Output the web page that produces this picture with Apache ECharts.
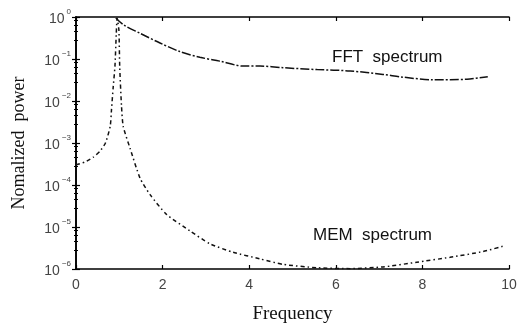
<!DOCTYPE html>
<html>
<head>
<meta charset="utf-8">
<script src="https://cdn.jsdelivr.net/npm/echarts@6/dist/echarts.min.js"></script>
<style>
  html, body { margin: 0; padding: 0; background: #fff; }
  #chart { width: 520px; height: 329px; }
</style>
</head>
<body>
<div id="chart"></div>
<script>
// FFT spectrum
const fftFreq = [0.92, 1.1, 1.48, 1.94, 2.4, 2.86, 3.32, 3.86, 4.25, 4.78, 5.57, 6.33, 7.09, 7.55, 8.24, 9.03, 9.51];
const fftPower = [0.95, 0.65, 0.41, 0.24, 0.15, 0.11, 0.089, 0.068, 0.068, 0.062, 0.056, 0.052, 0.043, 0.037, 0.032, 0.033, 0.038];

// MEM spectrum
const memFreq = [0, 0.2, 0.4, 0.55, 0.68, 0.79, 0.82, 0.86, 0.9, 0.93, 0.95, 0.99, 1.01, 1.05, 1.09, 1.25, 1.48, 1.71, 2.09, 2.63, 3.09, 3.63, 4.25, 4.78, 5.57, 6.33, 7.09, 7.87, 8.64, 9.4, 9.91];
const memPower = [3.0e-4, 3.5e-4, 4.6e-4, 6.3e-4, 1.0e-3, 2.5e-3, 6.3e-3, 2.2e-2, 6.8e-2, 0.4, 0.93, 0.5, 6.3e-2, 7.9e-3, 2.5e-3, 7.4e-4, 1.45e-4, 5.9e-5, 2.0e-5, 8.1e-6, 4.0e-6, 2.5e-6, 1.74e-6, 1.29e-6, 1.07e-6, 1.02e-6, 1.12e-6, 1.45e-6, 1.9e-6, 2.6e-6, 3.6e-6];

const xTicks = [0, 2, 4, 6, 8, 10];
const yExponents = [0, -1, -2, -3, -4, -5, -6];

const chart = echarts.init(document.getElementById('chart'));

const tickLabelColor = '#444';
const sansFont = 'Liberation Sans, Arial, sans-serif';
const serifFont = 'Liberation Serif, DejaVu Serif, serif';

const yLabel = v => {
  const e = Math.round(Math.log10(v));
  if (yExponents.indexOf(e) < 0) return '';
  return '{b|10}{s|' + (e === 0 ? '0' : '\u2212' + (-e)) + '}';
};

const axisCommon = {
  axisLine: { lineStyle: { color: '#000', width: 1.6 } },
  axisTick: { inside: true, length: 4, lineStyle: { color: '#000', width: 1.2 } },
  splitLine: { show: false }
};

const option = {
  animation: false,
  backgroundColor: '#fff',
  grid: { left: 76, right: 11, top: 17, bottom: 57 },
  xAxis: [
    Object.assign({
      type: 'value', min: 0, max: 10, interval: 2,
      name: 'Frequency', nameLocation: 'middle', nameGap: 36,
      nameTextStyle: { fontFamily: serifFont, fontSize: 19, color: '#111' },
      axisLabel: {
        color: tickLabelColor, fontFamily: sansFont, fontSize: 14, margin: 9,
        formatter: v => xTicks.indexOf(v) >= 0 ? String(v) : ''
      }
    }, axisCommon),
    Object.assign({
      type: 'value', min: 0, max: 10, interval: 2, position: 'top',
      axisLabel: { show: false }
    }, axisCommon)
  ],
  yAxis: [
    Object.assign({
      type: 'log', logBase: 10, min: 1e-6, max: 1,
      name: 'Nomalized  power', nameLocation: 'middle', nameGap: 48,
      nameTextStyle: { fontFamily: serifFont, fontSize: 18, color: '#111' },
      minorTick: { show: true, splitNumber: 5, length: 2, lineStyle: { color: '#000' } },
      axisLabel: {
        formatter: yLabel, margin: 5,
        rich: {
          b: { fontFamily: sansFont, fontSize: 14, color: tickLabelColor, lineHeight: 18, verticalAlign: 'bottom' },
          s: { fontFamily: sansFont, fontSize: 8, color: tickLabelColor, verticalAlign: 'top', padding: [0, 0, 8, 2] }
        }
      }
    }, axisCommon),
    Object.assign({
      type: 'log', logBase: 10, min: 1e-6, max: 1, position: 'right',
      minorTick: { show: true, splitNumber: 5, length: 2, lineStyle: { color: '#000' } },
      axisLabel: { show: false }
    }, axisCommon)
  ],
  series: [
    {
      name: 'FFT spectrum', type: 'line', smooth: 0.3, symbol: 'none',
      xAxisIndex: 0, yAxisIndex: 0,
      data: fftFreq.map((f, i) => [f, fftPower[i]]),
      lineStyle: { color: '#111', width: 1.5, type: [9, 2, 2, 2] }
    },
    {
      name: 'MEM spectrum', type: 'line', smooth: 0.2, symbol: 'none',
      xAxisIndex: 0, yAxisIndex: 0,
      data: memFreq.map((f, i) => [f, memPower[i]]),
      lineStyle: { color: '#111', width: 1.5, type: [4, 3, 1.5, 3] }
    }
  ],
  graphic: [
    { type: 'text', left: 332, top: 49, style: { text: 'FFT  spectrum', font: '17px ' + sansFont, fill: '#111' } },
    { type: 'text', left: 313, top: 227, style: { text: 'MEM  spectrum', font: '17px ' + sansFont, fill: '#111' } }
  ]
};

chart.setOption(option);
</script>
</body>
</html>
